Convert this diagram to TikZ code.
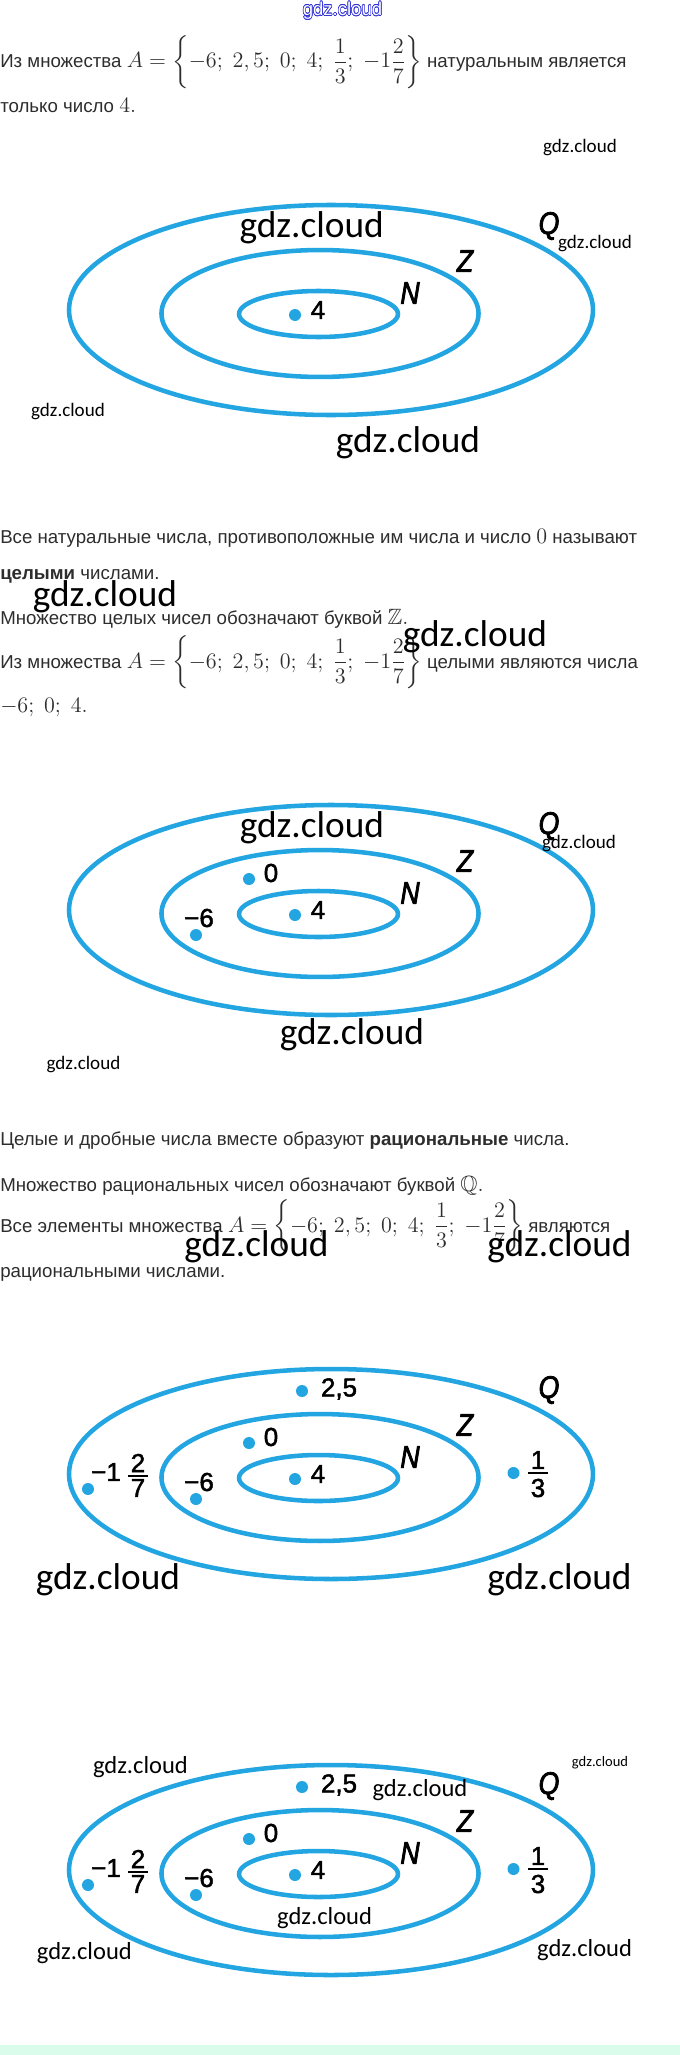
\RequirePackage{fix-cm}
\documentclass[tikz,border=0pt]{standalone}
\usepackage{amsmath,amssymb}
\usepackage{fontspec}
\usepackage{contour}
\setmainfont{Liberation Sans}
\newfontfamily\wmfont{Carlito}
\newfontfamily\wmsans{Liberation Sans}
\newfontfamily\labfont{Liberation Sans}[FakeBold=1.8]
\newfontfamily\setnfont{Liberation Sans}[FakeStretch=0.85,FakeBold=2.5]
\definecolor{setblue}{RGB}{35,165,225}
\definecolor{txtgray}{RGB}{45,45,45}
\definecolor{mint}{RGB}{218,253,235}
\definecolor{wmblue}{RGB}{50,50,215}
\newcommand\mth[1]{{\fontsize{16.6}{18}\selectfont$#1$}}
\newcommand\setA{A=\left\{-6;\ 2,5;\ 0;\ 4;\ \dfrac{1}{3};\ -1\dfrac{2}{7}\right\}}
\tikzset{
  txtline/.style={anchor=base west, inner sep=0pt, text=txtgray, font=\fontsize{14}{16}\selectfont},
  wmbig/.style={inner sep=0pt, font=\wmfont\fontsize{28}{30}\selectfont},
  wmmed/.style={inner sep=0pt, font=\wmfont\fontsize{18.4}{20}\selectfont},
  wmsmall/.style={inner sep=0pt, font=\wmfont\fontsize{14.3}{16}\selectfont},
  wmtiny/.style={inner sep=0pt, font=\wmfont\fontsize{10.9}{12}\selectfont},
  setline/.style={draw=setblue, line width=3.4pt},
  dotst/.style={circle, fill=setblue, inner sep=0pt, minimum size=9pt},
  num/.style={inner sep=0pt, font=\labfont\fontsize{19.5}{20}\selectfont},
  setname/.style={inner sep=0pt, font=\setnfont\itshape\fontsize{23.5}{24}\selectfont},
  fracbar/.style={line width=1.2pt, black},
}
\newcommand\vennbase[2]{%
  \draw[setline] (331,#1) ellipse [x radius=196.5pt, y radius=78.75pt];
  \draw[setline] (320,#1+3.5) ellipse [x radius=118.9pt, y radius=47.6pt];
  \draw[setline] (318.5,#1+4) ellipse [x radius=59.6pt, y radius=17.25pt];
  \node[setname] (N#2) at (410,#1-17) {N};
  \node[setname] (Z#2) at (465,#1-49) {Z};
  \node[setname] (Q#2) at (549,#1-84) {Q};
  \node[dotst] (d4#2) at (295,#1+5) {};
  \node[num] (l4#2) at (318,#1) {4};
}
\newcommand\vennint[2]{%
  \node[dotst] (d0#2) at (249,#1-31) {};
  \node[num] (l0#2) at (271,#1-37) {0};
  \node[dotst] (dm6#2) at (196,#1+25) {};
  \node[num] (lm6#2) at (199,#1+8) {−6};
}
\newcommand\vennrat[2]{%
  \node[dotst] (d25#2) at (302,#1-83) {};
  \node[num] (l25#2) at (339,#1-85) {2,5};
  \node[dotst] (dm127#2) at (88,#1+15) {};
  \node[num] (lm1#2) at (106,#1-2) {−1};
  \node[num] (f2#2) at (138,#1-11) {2};
  \node[num] (f7#2) at (138,#1+14) {7};
  \draw[fracbar] (128,#1+2) -- (148,#1+2);
  \node[dotst] (d13#2) at (513.5,#1-1) {};
  \node[num] (f1#2) at (538,#1-14) {1};
  \node[num] (f3#2) at (538,#1+14) {3};
  \draw[fracbar] (528,#1-1) -- (548,#1-1);
}
\begin{document}
\begin{tikzpicture}[x=0.75pt,y=-0.75pt]
\useasboundingbox (0,0) rectangle (680,2055);
\fill[white] (0,0) rectangle (680,2055);
\fill[mint] (0,2045) rectangle (680,2055);

% text block 1
\node[txtline] (t1) at (0,68) {Из множества \mth{\setA} натуральным является};
\node[txtline] (t2) at (0,113) {только число \mth{4.}};

% text block 2
\node[txtline] (t3) at (0,543) {Все натуральные числа, противоположные им числа и число \mth{0} называют};
\node[txtline] (t4) at (0,579) {\textbf{целыми} числами.};
\node[txtline] (t5) at (0,624) {Множество целых чисел обозначают буквой \mth{\mathbb{Z}.}};
\node[txtline] (t6) at (0,668) {Из множества \mth{\setA} целыми являются числа};
\node[txtline] (t7) at (0,712) {\mth{-6;\ 0;\ 4.}};

% text block 3
\node[txtline] (t8) at (0,1145) {Целые и дробные числа вместе образуют \textbf{рациональные} числа.};
\node[txtline] (t9) at (0,1191) {Множество рациональных чисел обозначают буквой \mth{\mathbb{Q}.}};
\node[txtline] (t10) at (0,1232) {Все элементы множества \mth{\setA} являются};
\node[txtline] (t11) at (0,1277) {рациональными числами.};

% diagrams
\vennbase{310}{a}
\vennbase{910}{b}
\vennint{910}{b}
\vennbase{1474}{c}
\vennint{1474}{c}
\vennrat{1474}{c}
\vennbase{1870}{d}
\vennint{1870}{d}
\vennrat{1870}{d}

% watermarks
\node[inner sep=0pt, font=\wmsans\fontsize{13.9}{15}\selectfont] (w1) at (342.5,11) {\contourlength{0.45pt}\contour{wmblue}{\textcolor{white}{gdz.cloud}}};
\node[wmsmall] (w2) at (580,148) {gdz.cloud};
\node[wmbig] (w3) at (311.7,228) {gdz.cloud};
\node[wmsmall] (w4) at (595,244) {gdz.cloud};
\node[wmsmall] (w5) at (68,412) {gdz.cloud};
\node[wmbig] (w6) at (408,443) {gdz.cloud};
\node[wmbig] (w7) at (105,597) {gdz.cloud};
\node[wmbig] (w8) at (475,637) {gdz.cloud};
\node[wmbig] (w9) at (312,828) {gdz.cloud};
\node[wmsmall] (w10) at (579,844) {gdz.cloud};
\node[wmbig] (w11) at (352,1035) {gdz.cloud};
\node[wmsmall] (w12) at (83.5,1065) {gdz.cloud};
\node[wmbig] (w13) at (256.5,1247) {gdz.cloud};
\node[wmbig] (w14) at (559.5,1247) {gdz.cloud};
\node[wmbig] (w15) at (108,1580) {gdz.cloud};
\node[wmbig] (w16) at (559.5,1580) {gdz.cloud};
\node[wmmed] (w17) at (140.5,1767) {gdz.cloud};
\node[wmmed] (w18) at (420,1790) {gdz.cloud};
\node[wmtiny] (w19) at (600,1763) {gdz.cloud};
\node[wmmed] (w20) at (324.6,1918) {gdz.cloud};
\node[wmmed] (w21) at (84.4,1953) {gdz.cloud};
\node[wmmed] (w22) at (584.6,1950) {gdz.cloud};
\end{tikzpicture}
\end{document}
